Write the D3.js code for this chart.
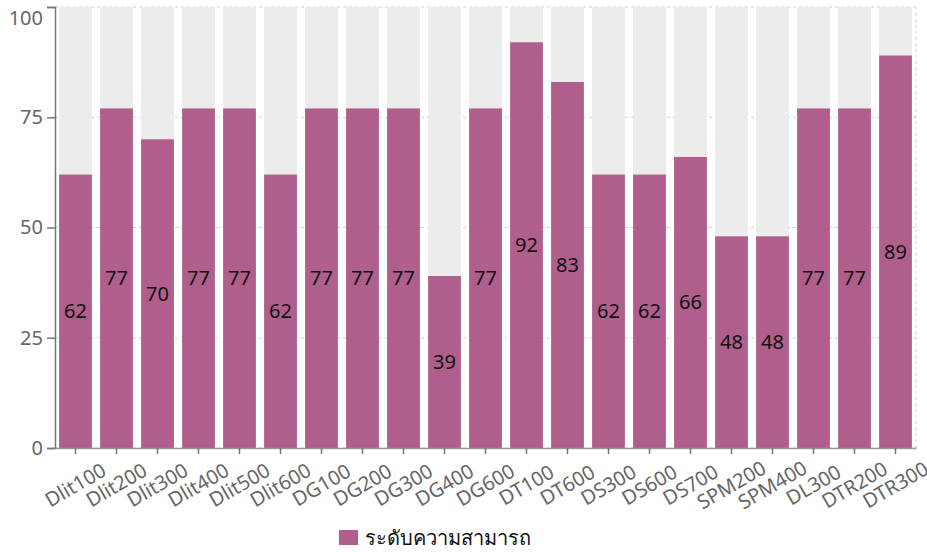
<!DOCTYPE html>
<html>
<head>
<meta charset="utf-8">
<script src="https://cdn.jsdelivr.net/npm/d3@7"></script>
<style>
body { margin: 0; background: #fff; font-family: "Noto Sans", "DejaVu Sans", sans-serif; }
</style>
</head>
<body>
<script>
var w = 927;
var h = 552;

// data
var categories = ["Dlit100", "Dlit200", "Dlit300", "Dlit400", "Dlit500", "Dlit600", "DG100", "DG200", "DG300", "DG400", "DG600",
                  "DT100", "DT600", "DS300", "DS600", "DS700", "SPM200", "SPM400", "DL300", "DTR200", "DTR300"];
var values = [62, 77, 70, 77, 77, 62, 77, 77, 77, 39, 77, 92, 83, 62, 62, 66, 48, 48, 77, 77, 89];
var yTicks = [0, 25, 50, 75, 100];
var seriesName = "ระดับความสามารถ";

var margin = {top: 7, right: 11, bottom: 104, left: 55};
var barColor = "#b05f8c";

var svg = d3.select("body").append("svg")
    .attr("width", w)
    .attr("height", h);

var x = d3.scaleBand()
    .domain(categories)
    .range([margin.left, w - margin.right])
    .paddingInner(0.2)
    .paddingOuter(0.1);

var y = d3.scaleLinear()
    .domain([0, 100])
    .range([h - margin.bottom, margin.top]);

//grid lines
svg.append("g")
    .selectAll("line")
    .data(yTicks)
    .enter()
    .append("line")
    .attr("x1", margin.left)
    .attr("x2", w - margin.right)
    .attr("y1", function(d) { return y(d); })
    .attr("y2", function(d) { return y(d); })
    .attr("stroke", "#d0d0d0")
    .attr("stroke-dasharray", "3,3");

//right border
svg.append("line")
    .attr("x1", w - margin.right)
    .attr("x2", w - margin.right)
    .attr("y1", y(100))
    .attr("y2", y(0))
    .attr("stroke", "#d0d0d0")
    .attr("stroke-dasharray", "3,3");

//background bars
svg.append("g")
    .selectAll("rect")
    .data(categories)
    .enter()
    .append("rect")
    .attr("x", function(d) { return x(d); })
    .attr("width", x.bandwidth())
    .attr("y", y(100))
    .attr("height", y(0) - y(100))
    .attr("fill", "#ececec");

//value bars
svg.append("g")
    .selectAll("rect")
    .data(values)
    .enter()
    .append("rect")
    .attr("x", function(d, i) { return x(categories[i]); })
    .attr("width", x.bandwidth())
    .attr("y", function(d) { return y(d); })
    .attr("height", function(d) { return y(0) - y(d); })
    .attr("fill", barColor);

//value labels in the middle of each bar
svg.append("g")
    .selectAll("text")
    .data(values)
    .enter()
    .append("text")
    .attr("x", function(d, i) { return x(categories[i]) + x.bandwidth() / 2; })
    .attr("y", function(d) { return (y(d) + y(0)) / 2; })
    .attr("dy", "0.35em")
    .attr("text-anchor", "middle")
    .attr("font-size", 20)
    .attr("fill", "#111")
    .text(function(d) { return d; });

//y axis
var yAxis = svg.append("g")
    .attr("transform", "translate(" + margin.left + ",0)")
    .call(d3.axisLeft(y).tickValues(yTicks).tickSize(8).tickPadding(4));
yAxis.selectAll("text").attr("font-size", 20).attr("fill", "#666").attr("font-family", "Noto Sans, sans-serif");
yAxis.selectAll("line, path").attr("stroke", "#777").attr("stroke-width", 1.5);
//top label pushed down so it is not cut off
yAxis.selectAll(".tick text").filter(function(d) { return d === 100; }).attr("dy", "0.85em");

//x axis
var xAxis = svg.append("g")
    .attr("transform", "translate(0," + y(0) + ")")
    .call(d3.axisBottom(x).tickSize(6).tickSizeOuter(0));
xAxis.select("path").attr("stroke", "#999").attr("stroke-width", 1.5);
xAxis.selectAll("line").attr("stroke", "#777").attr("stroke-width", 1.5);
xAxis.selectAll("text")
    .attr("font-size", 20)
    .attr("fill", "#666")
    .attr("font-family", "Noto Sans, sans-serif")
    .attr("text-anchor", "middle")
    .attr("y", 0)
    .attr("dy", "0.35em")
    .attr("transform", "translate(0,37) rotate(-30)");

//legend
var legend = svg.append("g")
    .attr("transform", "translate(339,530)");
legend.append("rect")
    .attr("width", 19)
    .attr("height", 15)
    .attr("fill", barColor);
legend.append("text")
    .attr("x", 26)
    .attr("y", 8)
    .attr("dy", "0.35em")
    .attr("font-size", 20)
    .attr("fill", "#111")
    .text(seriesName);
</script>
</body>
</html>
